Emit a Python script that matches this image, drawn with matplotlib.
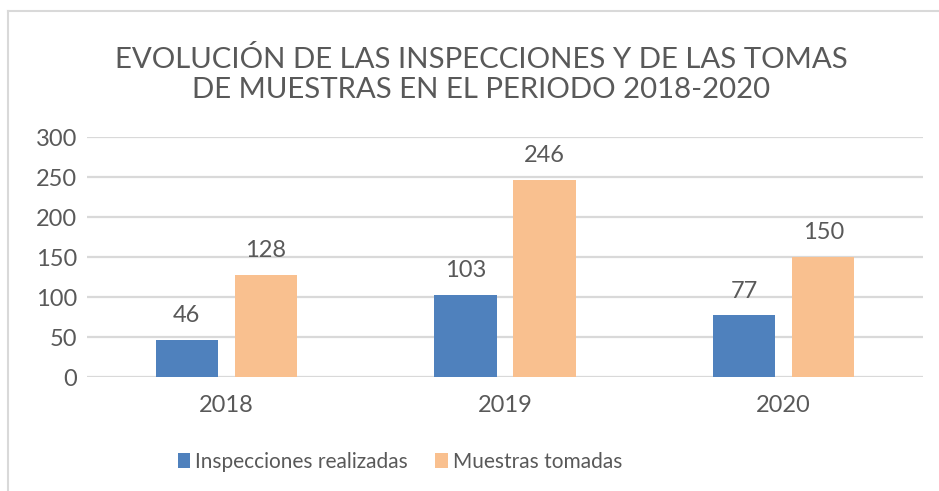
import numpy as np
import matplotlib.pyplot as plt
from matplotlib.lines import Line2D

# Datos
anios = ['2018', '2019', '2020']
inspecciones = [46, 103, 77]
muestras = [128, 246, 150]
series = ['Inspecciones realizadas', 'Muestras tomadas']

azul = '#4f81bd'
naranja = '#f9c08f'
gris = '#595959'

plt.rcParams['font.family'] = ['Lato', 'DejaVu Sans']

fig = plt.figure(figsize=(9.39, 4.91), dpi=100)
W, H = 939, 491
ax = fig.add_axes([87 / W, 1 - 377 / H, (923 - 87) / W, (377 - 137) / H])

x = np.arange(len(anios))
ancho = 0.223
desp = 0.142
b1 = ax.bar(x - desp, inspecciones, ancho, color=azul, label=series[0], zorder=3)
b2 = ax.bar(x + desp, muestras, ancho, color=naranja, label=series[1], zorder=3)

for barras in (b1, b2):
    for b in barras:
        ax.annotate(str(int(b.get_height())), (b.get_x() + b.get_width() / 2, b.get_height()),
                    xytext=(0, 10), textcoords='offset points', ha='center', va='bottom',
                    fontsize=17, color=gris)

ax.set_xlim(-0.5, 2.5)
ax.set_ylim(0, 300)
ax.set_yticks(range(0, 301, 50))
ax.set_xticks(x)
ax.set_xticklabels(anios)
ax.tick_params(length=0, labelsize=17, labelcolor=gris)
ax.tick_params(axis='x', pad=13)
ax.tick_params(axis='y', pad=7)
ax.grid(axis='y', color='#d9d9d9', linewidth=1.6, zorder=0)
for s in ax.spines.values():
    s.set_visible(False)

fig.text(481 / W, 1 - 68 / H, 'EVOLUCIÓN DE LAS INSPECCIONES Y DE LAS TOMAS',
         ha='center', va='baseline', fontsize=21.2, color=gris)
fig.text(481 / W, 1 - 98 / H, 'DE MUESTRAS EN EL PERIODO 2018-2020',
         ha='center', va='baseline', fontsize=21.2, color=gris)

fig.legend(loc='center', bbox_to_anchor=(400 / W, 1 - 462 / H), ncol=2, frameon=False,
           fontsize=15, handlelength=0.6, handleheight=0.7, handletextpad=0.25,
           columnspacing=1.3, labelcolor=gris)

# borde del gráfico
fig.add_artist(Line2D([7.5 / W, 7.5 / W], [0, 1 - 11 / H], color='#d9d9d9', linewidth=1.5))
fig.add_artist(Line2D([7.5 / W, 1], [1 - 11 / H, 1 - 11 / H], color='#d9d9d9', linewidth=1.5))

fig.savefig('out.png', dpi=100)
